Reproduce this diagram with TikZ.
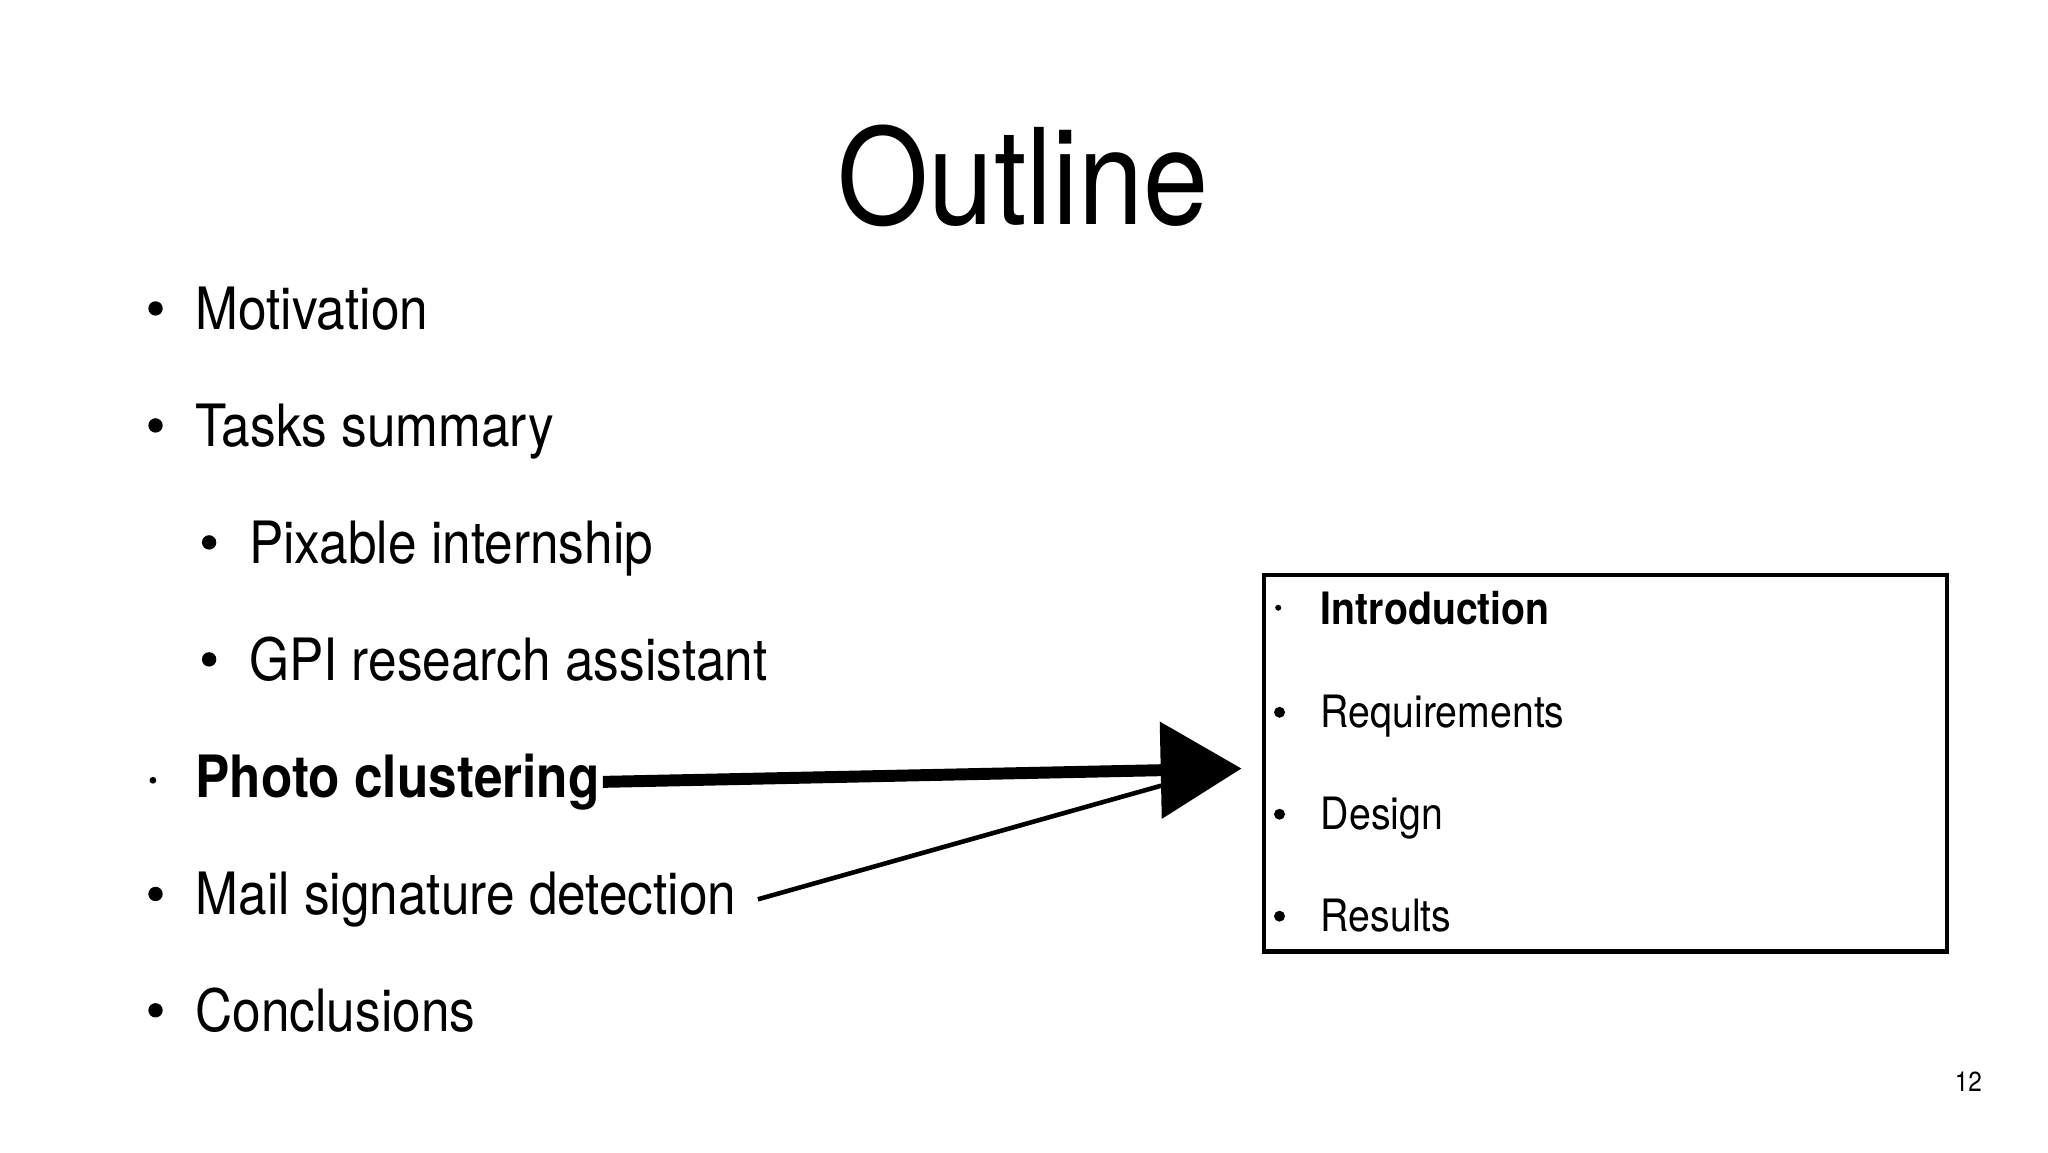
\documentclass[tikz,border=0pt]{standalone}
\usepackage{fontspec}
\setmainfont{TeX Gyre Heros}[FakeStretch=0.88]
\usetikzlibrary{arrows.meta}

\begin{document}
\begin{tikzpicture}[x=0.01cm,y=-0.01cm, % une unite = un pixel de la diapo
  texte/.style={anchor=base west,inner sep=0pt,font=\fontsize{12.7}{15}\selectfont},
  cadre/.style={anchor=base west,inner sep=0pt,font=\fontsize{9.7}{12}\selectfont},
  puce/.style={fill=black}]
\path[use as bounding box,fill=white] (0,0) rectangle (1567,881.5); % le fond
\node[anchor=base,inner sep=0pt,font=\fontsize{29}{34}\selectfont] (titre) at (783,172) {Outline}; % le titre
% la liste de gauche
\fill[puce] (119,236) circle (5.5);
\fill[puce] (119,325.5) circle (5.5);
\fill[puce] (160,415) circle (5.5);
\fill[puce] (160,504.5) circle (5.5);
\fill[puce] (117,597) circle (2.6);
\fill[puce] (119,684) circle (5.5);
\fill[puce] (119,773) circle (5.5);
\node[texte] (motiv) at (149,252) {Motivation};
\node[texte] (taches) at (149,341.5) {Tasks summary};
\node[texte] (pixable) at (190,431) {Pixable internship};
\node[texte] (gpi) at (190,520.5) {GPI research assistant};
\node[texte,font=\fontsize{12.7}{15}\selectfont\bfseries] (photo) at (149,610) {Photo clustering};
\node[texte] (mail) at (149,699.5) {Mail signature detection};
\node[texte] (concl) at (149,789) {Conclusions};
% le cadre de droite
\draw[line width=0.9pt] (967,440) rectangle (1490,728);
\fill[puce] (978,465) circle (2.3);
\fill[puce] (979,545) circle (4.2);
\fill[puce] (979,623) circle (4.2);
\fill[puce] (979,701) circle (4.2);
\node[cadre,font=\fontsize{9.7}{12}\selectfont\bfseries] (intro) at (1010,478) {Introduction};
\node[cadre] (exig) at (1010,557) {Requirements};
\node[cadre] (concep) at (1010,635) {Design};
\node[cadre] (result) at (1010,713) {Results};
\node[anchor=base,inner sep=0pt,font=\fontsize{6}{7}\selectfont] (num) at (1506,835) {12}; % numero de page
% les fleches
\coordinate (pointe) at (950,588);
\coordinate (base) at (889,601);
\draw[line width=2.6pt,-{Triangle[length=17.6pt,width=20.5pt]}] ([xshift=0.5pt]photo.east) -- (pointe);
\draw[line width=1pt] ([xshift=4.5pt]mail.east) -- (base);
\end{tikzpicture}
\end{document}
